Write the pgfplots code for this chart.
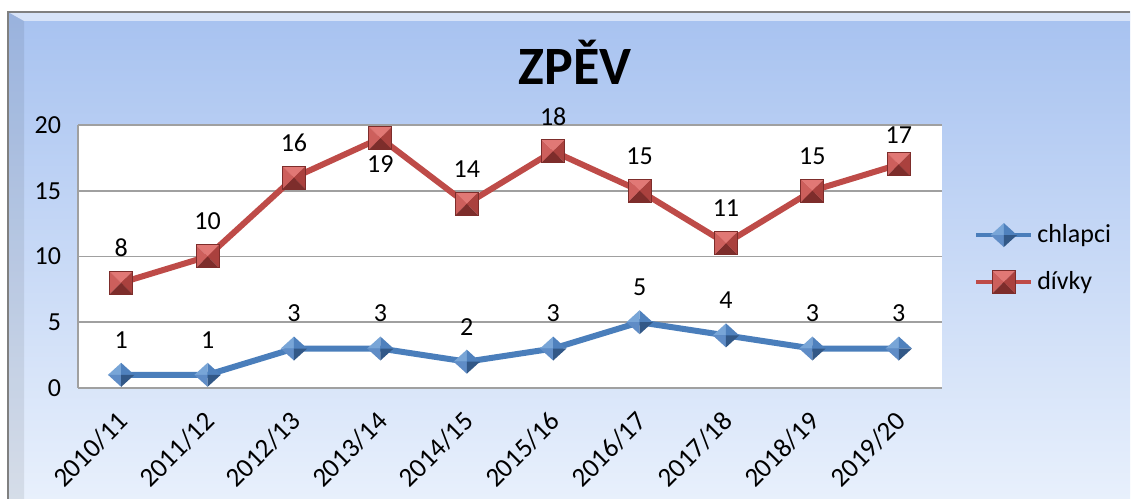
\documentclass[border=0pt]{standalone}
\usepackage{fontspec}
\setmainfont{Carlito}
\usepackage{pgfplots}
\pgfplotsset{compat=1.18}
\usepackage{pgfplotstable}
\definecolor{bgtop}{RGB}{167,194,240}
\definecolor{bgbot}{RGB}{232,240,252}
\definecolor{blueL}{RGB}{74,126,187}
\definecolor{bT}{RGB}{120,165,215}
\definecolor{bR}{RGB}{79,129,189}
\definecolor{bB}{RGB}{50,88,135}
\definecolor{bL}{RGB}{95,140,198}
\definecolor{redL}{RGB}{190,75,72}
\definecolor{rT}{RGB}{225,120,117}
\definecolor{rL}{RGB}{205,95,92}
\definecolor{rR}{RGB}{170,65,62}
\definecolor{rB}{RGB}{125,45,43}
\definecolor{gridc}{RGB}{160,160,160}

\pgfdeclareplotmark{pyrdiamond}{%
  \pgfsetlinewidth{0.3pt}%
  \pgfsetfillcolor{bT}%
  \pgfpathmoveto{\pgfpoint{-1.1\pgfplotmarksize}{0pt}}\pgfpathlineto{\pgfpoint{0pt}{\pgfplotmarksize}}\pgfpathlineto{\pgfpoint{0pt}{0pt}}\pgfpathclose\pgfusepath{fill}%
  \pgfsetfillcolor{bR}%
  \pgfpathmoveto{\pgfpoint{1.1\pgfplotmarksize}{0pt}}\pgfpathlineto{\pgfpoint{0pt}{\pgfplotmarksize}}\pgfpathlineto{\pgfpoint{0pt}{0pt}}\pgfpathclose\pgfusepath{fill}%
  \pgfsetfillcolor{bL}%
  \pgfpathmoveto{\pgfpoint{-1.1\pgfplotmarksize}{0pt}}\pgfpathlineto{\pgfpoint{0pt}{-\pgfplotmarksize}}\pgfpathlineto{\pgfpoint{0pt}{0pt}}\pgfpathclose\pgfusepath{fill}%
  \pgfsetfillcolor{bB}%
  \pgfpathmoveto{\pgfpoint{1.1\pgfplotmarksize}{0pt}}\pgfpathlineto{\pgfpoint{0pt}{-\pgfplotmarksize}}\pgfpathlineto{\pgfpoint{0pt}{0pt}}\pgfpathclose\pgfusepath{fill}%
}
\pgfdeclareplotmark{pyrsquare}{%
  \pgfsetfillcolor{rT}%
  \pgfpathmoveto{\pgfpoint{-\pgfplotmarksize}{\pgfplotmarksize}}\pgfpathlineto{\pgfpoint{\pgfplotmarksize}{\pgfplotmarksize}}\pgfpathlineto{\pgfpoint{0pt}{0pt}}\pgfpathclose\pgfusepath{fill}%
  \pgfsetfillcolor{rL}%
  \pgfpathmoveto{\pgfpoint{-\pgfplotmarksize}{\pgfplotmarksize}}\pgfpathlineto{\pgfpoint{-\pgfplotmarksize}{-\pgfplotmarksize}}\pgfpathlineto{\pgfpoint{0pt}{0pt}}\pgfpathclose\pgfusepath{fill}%
  \pgfsetfillcolor{rR}%
  \pgfpathmoveto{\pgfpoint{\pgfplotmarksize}{\pgfplotmarksize}}\pgfpathlineto{\pgfpoint{\pgfplotmarksize}{-\pgfplotmarksize}}\pgfpathlineto{\pgfpoint{0pt}{0pt}}\pgfpathclose\pgfusepath{fill}%
  \pgfsetfillcolor{rB}%
  \pgfpathmoveto{\pgfpoint{-\pgfplotmarksize}{-\pgfplotmarksize}}\pgfpathlineto{\pgfpoint{\pgfplotmarksize}{-\pgfplotmarksize}}\pgfpathlineto{\pgfpoint{0pt}{0pt}}\pgfpathclose\pgfusepath{fill}%
  \pgfsetstrokecolor{rB}\pgfsetlinewidth{0.5pt}%
  \pgfpathrectangle{\pgfpoint{-\pgfplotmarksize}{-\pgfplotmarksize}}{\pgfpoint{2\pgfplotmarksize}{2\pgfplotmarksize}}\pgfusepath{stroke}%
}

\pgfplotstableread{
x y o
0 1 17.5
1 1 17.5
2 3 17.5
3 3 17.5
4 2 17.5
5 3 17.5
6 5 17.5
7 4 17.5
8 3 17.5
9 3 17.5
}\chlapci
\pgfplotstableread{
x y o
0 8 17.5
1 10 17.5
2 16 17.5
3 19 -13
4 14 17.5
5 18 17.5
6 15 17.5
7 11 17.5
8 15 17.5
9 17 14.5
}\divky

\begin{document}
\begin{tikzpicture}
\useasboundingbox[fill=white] (0,0) rectangle (565.5pt,250.5pt);
% frame
\shade[top color=bgtop, bottom color=bgbot] (4pt,1pt) rectangle (565pt,244.5pt);
\fill[white, opacity=0.55] (4pt,244.5pt) -- (565pt,244.5pt) -- (565pt,240pt) -- (12pt,240pt) -- cycle;
\fill[black, opacity=0.08] (4pt,1pt) -- (4pt,244.5pt) -- (12pt,240pt) -- (12pt,1pt) -- cycle;
\draw[gray, line width=0.8pt] (4pt,1pt) -- (4pt,244.5pt) -- (565pt,244.5pt);
\node[font=\fontsize{27}{30}\selectfont\bfseries] at (287.5pt,219.5pt) {ZPĚV};
\begin{axis}[
  at={(39pt,56.5pt)}, anchor=south west,
  scale only axis, width=432pt, height=131.5pt,
  xmin=-0.5, xmax=9.5, ymin=0, ymax=20,
  xtick={0,...,9},
  xticklabels={2010/11,2011/12,2012/13,2013/14,2014/15,2015/16,2016/17,2017/18,2018/19,2019/20},
  ytick={0,5,10,15,20},
  /pgf/number format/assume math mode=true,
  yticklabel style={xshift=-5pt, font=\fontsize{13}{15}\selectfont},
  xticklabel style={rotate=45, anchor=north east, xshift=-6pt, yshift=-2.5pt, font=\fontsize{13.5}{16}\selectfont},
  major tick length=0pt,
  axis x line*=bottom, axis y line*=left,
  axis line style={draw=gridc, line width=0.8pt, -},
  ymajorgrids, grid style={draw=gridc, line width=0.8pt},
  axis background/.style={fill=white},
  clip=false,
  nodes near coords,
  every node near coord/.append style={font=\fontsize{13}{15}\selectfont, text=black, anchor=center, yshift=\off pt},
  legend style={at={(1.03,0.492)}, anchor=west, draw=none, fill=none,
    font=\fontsize{13}{15}\selectfont, row sep=9pt, cells={anchor=west}},
  legend cell align=left,
  legend image code/.code={%
    \draw[#1, line width=2pt, mark repeat=2, mark phase=2] plot coordinates {(0pt,0pt) (13.75pt,0pt) (27.5pt,0pt)};},
]
\addplot[blueL, line width=3pt, mark=pyrdiamond, mark size=6pt,
  visualization depends on={\thisrow{o} \as \off}]
  table[x=x, y=y] {\chlapci};
\addlegendentry{chlapci}
\addplot[redL, line width=3pt, mark=pyrsquare, mark size=5.75pt,
  visualization depends on={\thisrow{o} \as \off}]
  table[x=x, y=y] {\divky};
\addlegendentry{dívky}
\end{axis}
\end{tikzpicture}
\end{document}
